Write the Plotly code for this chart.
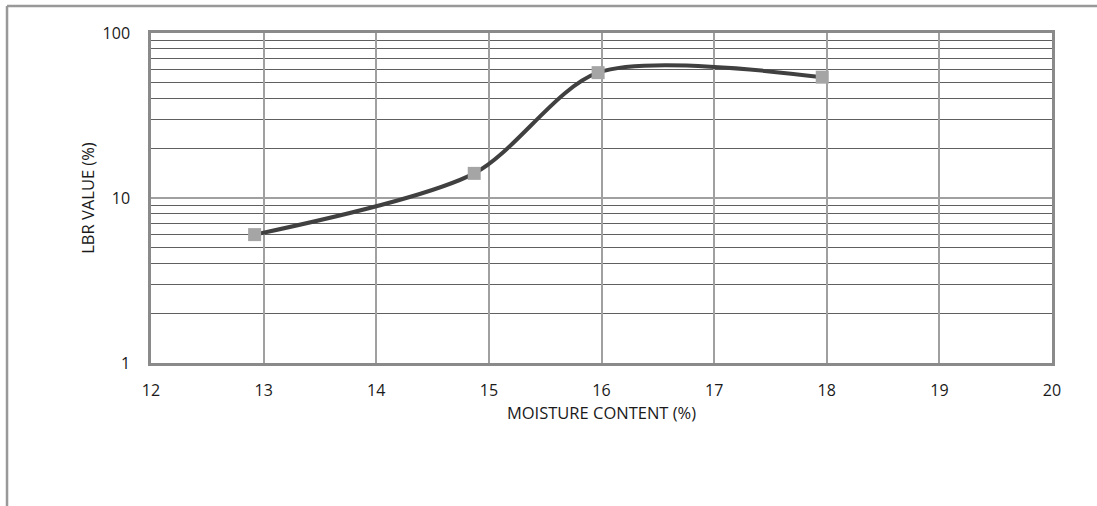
import plotly.graph_objects as go

moisture = [12.92, 14.87, 15.97, 17.96]
lbr = [6.0, 14.1, 57.5, 54.0]

x_ticks = list(range(12, 21))
y_major = [1, 10, 100]
y_minor = [2, 3, 4, 5, 6, 7, 8, 9, 20, 30, 40, 50, 60, 70, 80, 90]

fig = go.Figure()
fig.add_trace(go.Scatter(
    x=moisture, y=lbr, mode="lines+markers",
    line=dict(color="#404040", width=4, shape="spline", smoothing=0.8),
    marker=dict(symbol="square", size=13, color="#a5a5a5"),
    showlegend=False,
))

font = dict(family="Open Sans, Liberation Sans, sans-serif", size=16, color="#1a1a1a")

fig.update_layout(
    width=1097, height=506,
    margin=dict(l=151, r=45, t=33, b=143),
    paper_bgcolor="white", plot_bgcolor="white",
    font=font,
    xaxis=dict(
        range=[12, 20], tickvals=x_ticks, ticks="",
        showgrid=True, gridcolor="#a0a0a0", gridwidth=1.5,
        showline=True, linecolor="#8a8a8a", linewidth=2.5, mirror=True,
        zeroline=False, ticklabelstandoff=11,
        title=dict(text="MOISTURE CONTENT (%)", standoff=7,
                   font=dict(family=font["family"], size=16.5, color="#1a1a1a")),
    ),
    yaxis=dict(
        type="log", range=[0, 2], tickvals=y_major, ticks="",
        showgrid=True, gridcolor="#a0a0a0", gridwidth=1.5,
        minor=dict(tickvals=y_minor, showgrid=True, gridcolor="#5f5f5f", gridwidth=1.3, ticks=""),
        showline=True, linecolor="#8a8a8a", linewidth=2.5, mirror=True,
        zeroline=False, ticklabelstandoff=15,
        title=dict(text="LBR VALUE (%)", standoff=4,
                   font=dict(family=font["family"], size=16.5, color="#1a1a1a")),
    ),
    shapes=[
        dict(type="line", xref="paper", yref="paper",
             x0=-0.1598, x1=1.06, y0=1.0818, y1=1.0818,
             line=dict(color="#999999", width=2.5)),
        dict(type="line", xref="paper", yref="paper",
             x0=-0.1598, x1=-0.1598, y0=1.0818, y1=-0.45,
             line=dict(color="#999999", width=2.5)),
    ],
)

fig.write_html("out.html", config={"displayModeBar": False},
               post_script="document.body.style.margin='0';")
